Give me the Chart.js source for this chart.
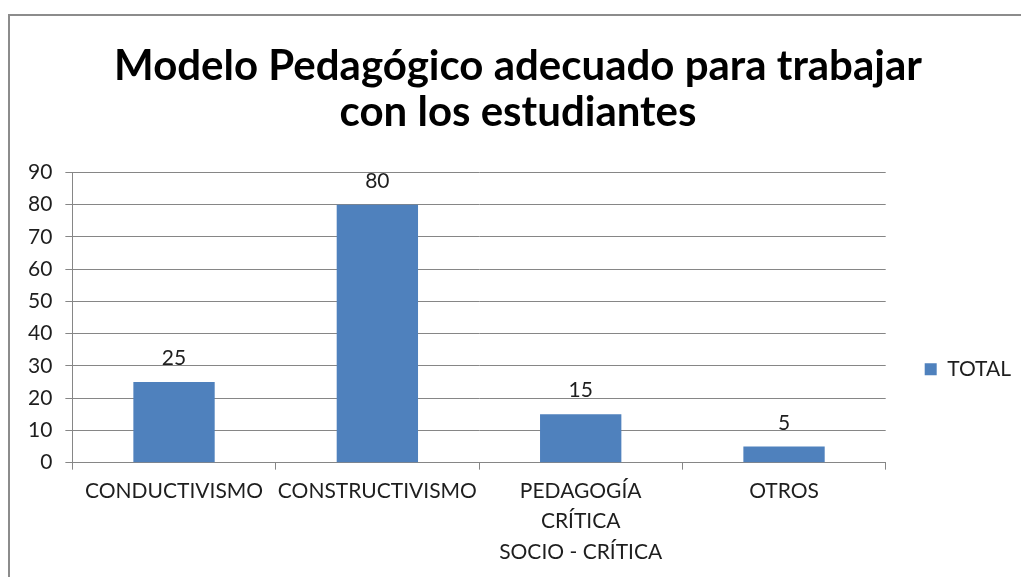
<!DOCTYPE html>
<html>
<head>
<meta charset="utf-8">
<script src="https://cdn.jsdelivr.net/npm/chart.js@4.4.0/dist/chart.umd.min.js"></script>
<style>
  html, body { margin: 0; padding: 0; background: #fff; overflow: hidden; }
  #frame {
    position: absolute; left: 8px; top: 14px; width: 1100px; height: 700px;
    border-top: 2px solid #8c8c8c; border-left: 2px solid #8c8c8c;
  }
  #wrap { position: absolute; left: 11px; top: 17px; width: 1010px; height: 560px; }
</style>
</head>
<body>
<div id="frame"></div>
<div id="wrap"><canvas id="chart"></canvas></div>
<script>
const titleLines = ["Modelo Pedagógico adecuado para trabajar", "con los estudiantes"];
const categories = [
  "CONDUCTIVISMO",
  "CONSTRUCTIVISMO",
  ["PEDAGOGÍA", "CRÍTICA", "SOCIO - CRÍTICA"],
  "OTROS",
];
const seriesName = "TOTAL";
const totals = [25, 80, 15, 5];
const yTicks = { min: 0, max: 90, step: 10 };

const barColor = "#4F81BD";
const lineColor = "#868686";
const textColor = "#1e1e1e";

// value labels above each bar
const valueLabels = {
  id: "valueLabels",
  afterDatasetsDraw(chart) {
    const ctx = chart.ctx;
    const meta = chart.getDatasetMeta(0);
    ctx.save();
    ctx.font = "21px Lato";
    ctx.fillStyle = textColor;
    ctx.textAlign = "center";
    ctx.textBaseline = "alphabetic";
    meta.data.forEach((bar, i) => {
      ctx.fillText(String(totals[i]), bar.x, bar.y - 17);
    });
    ctx.restore();
  },
};

new Chart(document.getElementById("chart"), {
  type: "bar",
  plugins: [valueLabels],
  data: {
    labels: categories,
    datasets: [
      {
        label: seriesName,
        data: totals,
        backgroundColor: barColor,
        categoryPercentage: 1,
        barPercentage: 0.4,
      },
    ],
  },
  options: {
    responsive: true,
    maintainAspectRatio: false,
    animation: false,
    layout: { padding: { left: 4, right: 0, top: 0, bottom: 4 } },
    plugins: {
      tooltip: { enabled: false },
      title: {
        display: true,
        text: titleLines,
        color: "#000",
        font: { family: "Lato", size: 42, weight: "bold", lineHeight: 1.1 },
        padding: { top: 26, bottom: 37 },
      },
      legend: {
        position: "right",
        title: { display: true, text: "", padding: { top: 134, bottom: 0 } },
        labels: {
          boxWidth: 12,
          boxHeight: 12,
          padding: 39,
          color: textColor,
          font: { family: "Lato", size: 21 },
        },
      },
    },
    scales: {
      x: {
        grid: { drawOnChartArea: false, drawTicks: true, tickLength: 7, color: lineColor, offset: true },
        border: { display: true, color: lineColor },
        ticks: {
          color: textColor,
          font: { family: "Lato", size: 21, lineHeight: 1.45 },
          padding: 6,
          maxRotation: 0,
          autoSkip: false,
        },
      },
      y: {
        min: yTicks.min,
        max: yTicks.max,
        grid: { color: lineColor, tickLength: 7 },
        border: { display: true, color: lineColor },
        ticks: {
          stepSize: yTicks.step,
          color: textColor,
          font: { family: "Lato", size: 21 },
          padding: 13,
        },
      },
    },
  },
});
</script>
</body>
</html>
